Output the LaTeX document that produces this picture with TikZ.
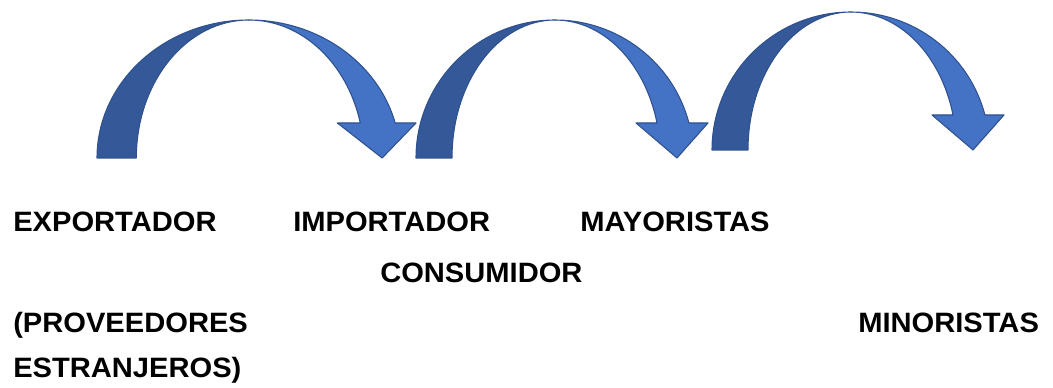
\documentclass[tikz,border=0pt]{standalone}
\usepackage{fontspec}
\setmainfont[FakeStretch=1.04]{Liberation Sans}
\usepackage{tikz}

\definecolor{archdark}{RGB}{52,88,152}
\definecolor{archlight}{RGB}{68,114,196}
\definecolor{archline}{RGB}{47,82,143}

\tikzset{
  label/.style={anchor=base west, inner sep=0pt, font=\fontsize{21}{25}\selectfont\bfseries},
  back/.style={fill=archdark, draw=archline, line width=0.8, line join=round},
  front/.style={fill=archlight, draw=archline, line width=0.8, line join=round}
}

% curved arrow, left outer foot at (0,0)
\newcommand{\curvedarrow}{%
  \path[back] (0,0) arc[start angle=180, end angle=270, x radius=139, y radius=138]
    arc[start angle=270, end angle=180, x radius=103, y radius=138] -- cycle;
  \path[front] (139,-138) arc[start angle=-90, end angle=-14.7, x radius=138.5, y radius=138]
    -- (292,-35) -- (261,0) -- (220,-35) -- (241,-35)
    arc[start angle=-14.7, end angle=-90, x radius=105.4, y radius=138] -- cycle;
}

\begin{document}
\begin{tikzpicture}[x=0.75pt,y=-0.75pt]
\useasboundingbox (0,0) rectangle (1053,388);

\begin{scope}[shift={(97,158)}, xscale=1.0925]
  \curvedarrow
\end{scope}
\begin{scope}[shift={(416,158)}]
  \curvedarrow
\end{scope}
\begin{scope}[shift={(712,150)}]
  \curvedarrow
\end{scope}

\node[label] (exportador) at (13,232) {EXPORTADOR};
\node[label] (importador) at (293,232) {IMPORTADOR};
\node[label] (mayoristas) at (580,232) {MAYORISTAS};
\node[label] (consumidor) at (380,283) {CONSUMIDOR};
\node[label] (proveedores) at (13,332) {(PROVEEDORES};
\node[label] (minoristas) at (858,332) {MINORISTAS};
\node[label] (estranjeros) at (13,378) {ESTRANJEROS)};
\end{tikzpicture}
\end{document}
